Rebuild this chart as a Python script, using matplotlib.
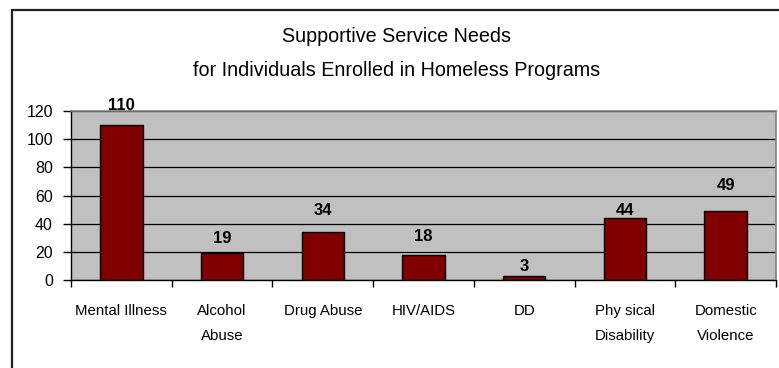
import matplotlib
matplotlib.use("Agg")
import matplotlib.pyplot as plt
from matplotlib.patches import Rectangle

# data
categories = ["Mental Illness", "Alcohol\nAbuse", "Drug Abuse", "HIV/AIDS",
              "DD", "Phy sical\nDisability", "Domestic\nViolence"]
values = [110, 19, 34, 18, 3, 44, 49]
y_ticks = [0, 20, 40, 60, 80, 100, 120]

# gap (in points) between bar top and its label, as in the original
label_gap = [9, 5, 10, 8, 1, 0, 13]

plt.rcParams["font.family"] = ["Liberation Sans Narrow", "Liberation Sans", "DejaVu Sans"]

W, H = 779, 368
fig = plt.figure(figsize=(W / 100, H / 100), dpi=100)
fig.patch.set_facecolor("white")

# outer chart border (cut off at right/bottom like the screenshot)
fig.add_artist(Rectangle((12 / W, -0.05), 1.2, 1.05 - 10 / H,
                         transform=fig.transFigure, fill=False,
                         edgecolor="#222222", linewidth=1.6))

left, right, top, bottom = 71, 776, 111, 280
ax = fig.add_axes([left / W, 1 - bottom / H, (right - left) / W, (bottom - top) / H])
ax.set_facecolor("#C0C0C0")

x = list(range(len(categories)))
bars = ax.bar(x, values, width=0.42, color="#800000", edgecolor="black",
              linewidth=1.0, zorder=3)

for b, v, g in zip(bars, values, label_gap):
    ax.annotate(str(v), (b.get_x() + b.get_width() / 2, v),
                xytext=(0, g), textcoords="offset points",
                ha="center", va="bottom", fontsize=12, fontweight="bold",
                zorder=4, annotation_clip=False)

ax.set_xlim(-0.5, len(categories) - 0.5)
ax.set_ylim(0, 120)
ax.set_yticks(y_ticks)
ax.set_yticklabels([str(t) for t in y_ticks], fontsize=11.5)
ax.yaxis.grid(True, color="black", linewidth=0.9, zorder=1)
ax.set_axisbelow(True)

# category labels between boundary ticks
ax.set_xticks([i + 0.5 for i in range(-1, len(categories))])
ax.set_xticklabels([])
ax.set_xticks(x, minor=True)
ax.set_xticklabels(categories, minor=True, fontsize=10.8, linespacing=2.05)
ax.tick_params(axis="x", which="major", direction="out", length=5, width=1)
ax.tick_params(axis="x", which="minor", length=0, pad=17)
ax.tick_params(axis="y", direction="out", length=6, width=1, pad=7)

for s in ["top", "right"]:
    ax.spines[s].set_color("#808080")
    ax.spines[s].set_linewidth(1.2)
for s in ["left", "bottom"]:
    ax.spines[s].set_color("black")
    ax.spines[s].set_linewidth(1.0)

fig.text(397 / W, 1 - 37 / H, "Supportive Service Needs", ha="center",
         va="center", fontsize=14.2)
fig.text(397 / W, 1 - 71 / H, "for Individuals Enrolled in Homeless Programs",
         ha="center", va="center", fontsize=14.2)

fig.savefig("out.png", dpi=100)
